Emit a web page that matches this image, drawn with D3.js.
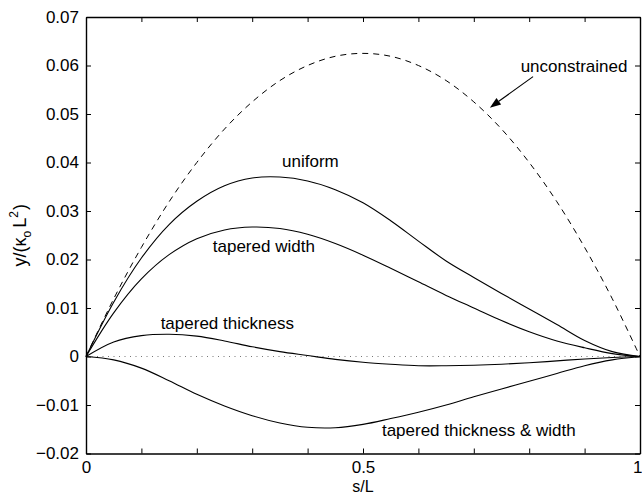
<!DOCTYPE html>
<html><head><meta charset="utf-8">
<script src="https://cdn.jsdelivr.net/npm/d3@7"></script>
<style>body{margin:0;background:#fff}text{font-family:"Liberation Sans",Arial,Helvetica,sans-serif;}</style>
</head><body>
<svg id="c" width="642" height="496"></svg>
<script>
const sVals = [0,0.05,0.1,0.15,0.2,0.25,0.3,0.35,0.4,0.45,0.5,0.55,0.6,0.65,0.7,0.75,0.8,0.85,0.9,0.95,1];
const unconstrained = [0,0.0119,0.0225,0.0319,0.0400,0.0469,0.0525,0.0569,0.0600,0.0619,0.0625,0.0619,0.0600,0.0569,0.0525,0.0469,0.0400,0.0319,0.0225,0.0119,0];
const uniform = [0,0.0112,0.0203,0.0272,0.0320,0.0352,0.0368,0.0370,0.0362,0.0344,0.0317,0.0280,0.0238,0.0197,0.0163,0.0130,0.0098,0.0066,0.0033,0.0010,0];
const taperedWidth = [0,0.0090,0.0160,0.0210,0.0243,0.0261,0.0267,0.0264,0.0252,0.0233,0.0209,0.0182,0.0154,0.0126,0.0100,0.0074,0.0051,0.0032,0.0018,0.0006,0];
const taperedThickness = [0,0.0030,0.0043,0.0046,0.0042,0.0032,0.0020,0.0010,0.0002,-0.0006,-0.0012,-0.0016,-0.0019,-0.0019,-0.0018,-0.0016,-0.0013,-0.0009,-0.0005,-0.0002,0];
const taperedBoth = [0,-0.0007,-0.0024,-0.0050,-0.0078,-0.0102,-0.0122,-0.0137,-0.0146,-0.0147,-0.0140,-0.0128,-0.0115,-0.0100,-0.0083,-0.0067,-0.0051,-0.0035,-0.0019,-0.0007,0];
const xTicks = [0,0.1,0.2,0.3,0.4,0.5,0.6,0.7,0.8,0.9,1];
const xTickLabels = {0:"0",0.5:"0.5",1:"1"};
const yTicks = [-0.02,-0.01,0,0.01,0.02,0.03,0.04,0.05,0.06,0.07];
const yTickLabels = ["\u22120.02","\u22120.01","0","0.01","0.02","0.03","0.04","0.05","0.06","0.07"];
const labels = [
  {text:"uniform", s:0.405, v:0.0399},
  {text:"tapered width", s:0.321, v:0.0225},
  {text:"tapered thickness", s:0.255, v:0.0066},
  {text:"tapered thickness & width", s:0.709, v:-0.0154},
  {text:"unconstrained", s:0.881, v:0.0596}
];
const arrowFrom = [0.807, 0.0577], arrowTo = [0.729, 0.0513];

const L=86, T=17, R=640, B=453.5;
const svg = d3.select("#c");
const x = d3.scaleLinear().domain([0,1]).range([L,R]);
const y = d3.scaleLinear().domain([-0.02,0.07]).range([B,T]);
const fs = 17;

// zero dotted line
svg.append("line").attr("x1",x(0)).attr("x2",x(1)).attr("y1",y(0)).attr("y2",y(0))
  .attr("stroke","#777").attr("stroke-width",1).attr("stroke-dasharray","1,4.5");

const line = d3.line().x((d,i)=>x(sVals[i])).y(d=>y(d)).curve(d3.curveCatmullRom.alpha(0.5));
svg.append("path").attr("d",line(unconstrained)).attr("fill","none").attr("stroke","#000").attr("stroke-width",1).attr("stroke-dasharray","6,5");
[uniform,taperedWidth,taperedThickness,taperedBoth].forEach(ser=>{
  svg.append("path").attr("d",line(ser)).attr("fill","none").attr("stroke","#000").attr("stroke-width",1.1);
});

// axes (box with inner ticks)
const tl = 5;
const axB = d3.axisBottom(x).tickValues(xTicks).tickSizeInner(-tl).tickSizeOuter(0).tickFormat(d=>xTickLabels[d]!==undefined?xTickLabels[d]:"").tickPadding(7);
const axT = d3.axisTop(x).tickValues(xTicks).tickSizeInner(-tl).tickSizeOuter(0).tickFormat("");
const axL = d3.axisLeft(y).tickValues(yTicks).tickSizeInner(-tl).tickSizeOuter(0).tickFormat((d,i)=>yTickLabels[i]).tickPadding(7);
const axR = d3.axisRight(y).tickValues(yTicks).tickSizeInner(-tl).tickSizeOuter(0).tickFormat("");
function style(g){g.selectAll("path").attr("stroke","#000").attr("stroke-width",1.4);g.selectAll("line").attr("stroke","#000").attr("stroke-width",1);g.selectAll("text").attr("font-size",fs).attr("fill","#000").attr("font-family",'"Liberation Sans",Arial,sans-serif');}
const gB = svg.append("g").attr("transform",`translate(0,${B})`).call(axB).call(style);
// keep the last label ("1") inside the picture, as in the reference
gB.selectAll(".tick").filter(d=>d===1).select("text").attr("text-anchor","end").attr("x",2);
svg.append("g").attr("transform",`translate(0,${T})`).call(axT).call(style);
svg.append("g").attr("transform",`translate(${L},0)`).call(axL).call(style);
svg.append("g").attr("transform",`translate(${R},0)`).call(axR).call(style);

// curve labels
labels.forEach(l=>{
  svg.append("text").attr("x",x(l.s)).attr("y",y(l.v)).attr("text-anchor","middle").attr("dominant-baseline","middle").attr("font-size",fs).text(l.text);
});

// arrow
const ax1=x(arrowFrom[0]), ay1=y(arrowFrom[1]), ax2=x(arrowTo[0]), ay2=y(arrowTo[1]);
const ang=Math.atan2(ay2-ay1,ax2-ax1), hl=11, hw=4;
const bx=ax2-hl*Math.cos(ang), by=ay2-hl*Math.sin(ang);
svg.append("line").attr("x1",ax1).attr("y1",ay1).attr("x2",bx).attr("y2",by).attr("stroke","#000").attr("stroke-width",1.1);
svg.append("path").attr("d",`M${ax2},${ay2}L${bx-hw*Math.sin(ang)},${by+hw*Math.cos(ang)}L${bx+hw*Math.sin(ang)},${by-hw*Math.cos(ang)}Z`).attr("fill","#000");

// axis titles
svg.append("text").attr("x",x(0.5)).attr("y",492).attr("text-anchor","middle").attr("font-size",16).text("s/L");
const yl = svg.append("text").attr("transform",`translate(26,${(T+B)/2}) rotate(-90)`).attr("text-anchor","middle").attr("font-size",18);
yl.append("tspan").text("y/(\u03ba");
yl.append("tspan").attr("dy",5).attr("font-size",12).text("o");
yl.append("tspan").attr("dy",-5).attr("dx",3).text("L");
yl.append("tspan").attr("dy",-8).attr("font-size",12).text("2");
yl.append("tspan").attr("dy",8).attr("dx",1).text(")");
</script>
</body></html>
